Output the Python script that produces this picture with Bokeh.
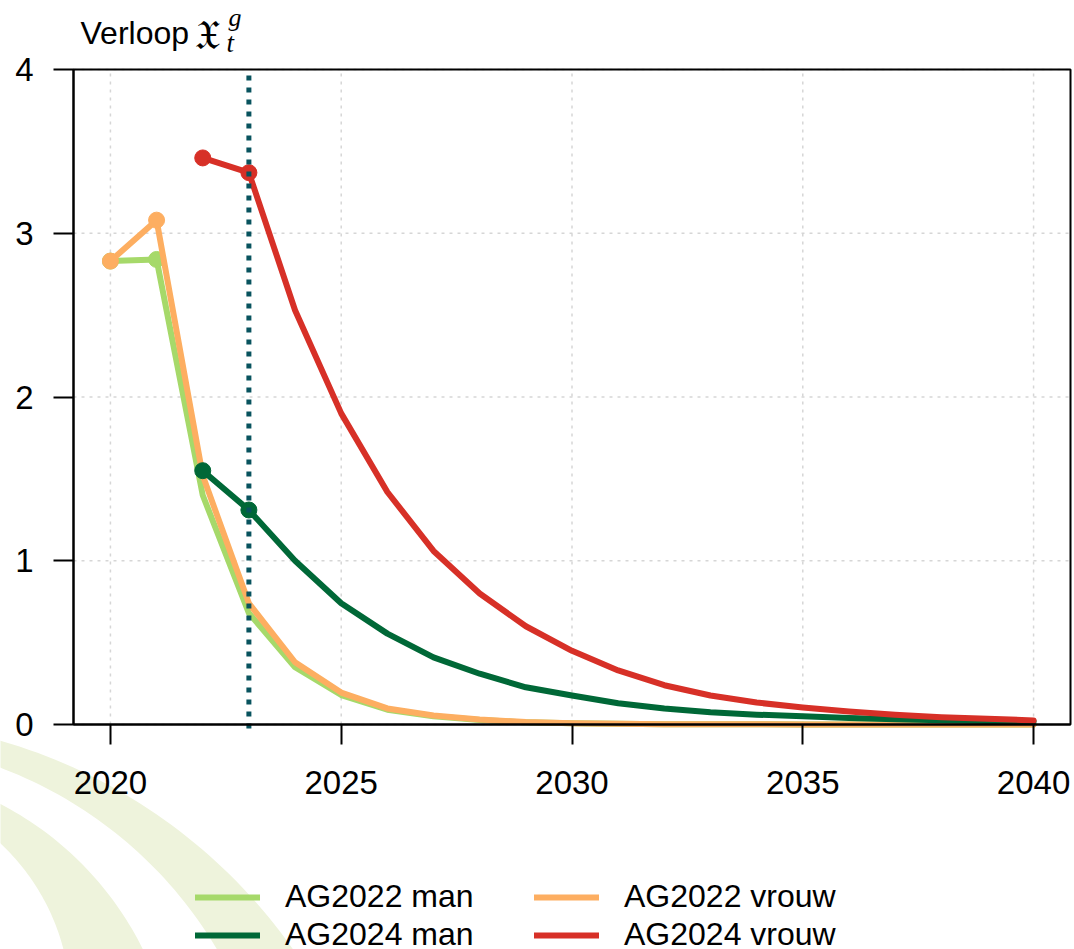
import numpy as np
from bokeh.plotting import figure
from bokeh.models import (Legend, LegendItem, Range1d, FixedTicker, Label,
                          PolyAnnotation, BoxAnnotation)
from bokeh.embed import file_html
from bokeh.resources import INLINE

# ---------------- data ----------------
years_2022 = list(range(2020, 2041))
years_2024 = list(range(2022, 2041))

ag2022_man = [2.83, 2.84, 1.40, 0.68, 0.35, 0.18, 0.09, 0.05, 0.027, 0.013,
              0.007, 0.004, 0.002, 0.001, 0.001, 0.0005, 0.0003, 0.0002,
              0.0001, 0.0001, 0.0]
ag2022_vrouw = [2.83, 3.08, 1.52, 0.74, 0.38, 0.195, 0.098, 0.055, 0.03, 0.015,
                0.008, 0.004, 0.002, 0.001, 0.001, 0.0005, 0.0003, 0.0002,
                0.0001, 0.0001, 0.0]
ag2024_man = [1.55, 1.31, 1.00, 0.74, 0.555, 0.41, 0.31, 0.227, 0.177, 0.13,
              0.098, 0.075, 0.06, 0.05, 0.04, 0.032, 0.026, 0.022, 0.018]
ag2024_vrouw = [3.46, 3.37, 2.53, 1.90, 1.42, 1.06, 0.80, 0.60, 0.45, 0.33,
                0.24, 0.177, 0.134, 0.104, 0.08, 0.06, 0.045, 0.035, 0.025]

series_labels = ["AG2022 man", "AG2022 vrouw", "AG2024 man", "AG2024 vrouw"]
series_colors = ["#a6d96a", "#fdae61", "#006837", "#d73027"]

x_ticks = [2020, 2025, 2030, 2035, 2040]
y_ticks = [0, 1, 2, 3, 4]
vline_year = 2023

# ---------------- layout geometry (pixels) ----------------
W, H = 1074, 949
FL, FR, FT, FB = 73.0, 1070.0, 69.0, 724.0     # plot box on the canvas
XA, XB = 2019.2, 2040.8                          # x extent of the plot box
YA, YB = 0.0, 4.0                                # y extent of the plot box
kx = (FR - FL) / (XB - XA)
ky = (FB - FT) / (YB - YA)
x_range = Range1d(XA - FL / kx, XB + (W - FR) / kx)
y_range = Range1d(YA - (H - FB) / ky, YB + FT / ky)

p = figure(width=W, height=H, output_backend="svg", toolbar_location=None,
           x_range=x_range, y_range=y_range,
           min_border_left=0, min_border_right=0, min_border_top=0,
           min_border_bottom=0)
p.title.visible = False
p.outline_line_color = None
p.background_fill_color = "white"
p.border_fill_color = "white"
p.grid.visible = False

# watermark arcs (screen pixels; each edge its own circle: centre y, radius)
theta = np.linspace(0, np.pi / 2, 90)
wm_cx = -150.0
for (cy_o, r_o), (cy_i, r_i) in [((1260, 541), (1166, 426)),
                                 ((1093, 326), (1004, 220))]:
    sxs = np.concatenate([wm_cx + r_o * np.cos(theta),
                          wm_cx + r_i * np.cos(theta[::-1])])
    sys = np.concatenate([cy_o - r_o * np.sin(theta),
                          cy_i - r_i * np.sin(theta[::-1])])
    p.add_layout(PolyAnnotation(xs=list(sxs), ys=list(H - sys), xs_units="screen",
                                ys_units="screen", fill_color="#eef3dc",
                                fill_alpha=1.0, line_color=None, level="underlay"))

# grid (dotted) limited to the plot box
p.segment(x0=x_ticks, x1=x_ticks, y0=[YA] * len(x_ticks), y1=[YB] * len(x_ticks),
          line_color="#d6d6d6", line_width=1.5, line_dash="3 5")
p.segment(x0=[XA] * len(y_ticks), x1=[XB] * len(y_ticks), y0=y_ticks, y1=y_ticks,
          line_color="#d6d6d6", line_width=1.5, line_dash="3 5")

# axes placed on the plot box
p.xaxis.fixed_location = YA
p.xaxis.bounds = (XA, XB)
p.yaxis.fixed_location = XA
p.yaxis.bounds = (YA, YB)
for ax in (p.xaxis[0], p.yaxis[0]):
    ax.axis_line_width = 2
    ax.axis_line_color = "black"
    ax.major_tick_line_width = 2
    ax.major_tick_line_color = "black"
    ax.major_tick_out = 20
    ax.major_tick_in = 0
    ax.minor_tick_line_color = None
    ax.major_label_text_font = "Liberation Sans"
    ax.major_label_text_font_size = "33px"
    ax.major_label_text_color = "black"
p.xaxis.ticker = FixedTicker(ticks=x_ticks)
p.yaxis.ticker = FixedTicker(ticks=y_ticks)
p.xaxis.major_label_standoff = 26
p.yaxis.major_label_standoff = 20

# series
xs_all = [years_2022, years_2022, years_2024, years_2024]
ys_all = [ag2022_man, ag2022_vrouw, ag2024_man, ag2024_vrouw]
renderers = []
for xs, ys, col in zip(xs_all, ys_all, series_colors):
    r = p.line(xs, ys, line_width=6, line_color=col, line_cap="round",
               line_join="round")
    p.scatter(xs[:2], ys[:2], size=16, marker="circle", fill_color=col,
              line_color=col)
    renderers.append(r)

# vertical dotted line
p.segment(x0=[vline_year], x1=[vline_year], y0=[YA - 0.025], y1=[YB],
          line_color="#08535e", line_width=5, line_dash="5 7")

# box around plot region (on top of the grid)
p.add_layout(BoxAnnotation(left=XA, right=XB, bottom=YA, top=YB, fill_alpha=0,
                           line_color="black", line_alpha=1.0, line_width=2))

# title: Verloop X_t^g
p.add_layout(Label(x=80, y=H - 32, x_units="screen", y_units="screen", text="Verloop",
                   text_font="Liberation Sans", text_font_size="32px",
                   text_baseline="alphabetic", text_color="black"))
p.add_layout(Label(x=194, y=H - 34, x_units="screen", y_units="screen",
                   text="\U0001D51B", text_font="DejaVu Serif", text_font_size="41px",
                   text_baseline="alphabetic", text_color="black"))
p.add_layout(Label(x=226, y=H - 42, x_units="screen", y_units="screen", text="t",
                   text_font="Liberation Serif", text_font_style="italic",
                   text_font_size="27px", text_baseline="alphabetic",
                   text_color="black"))
p.add_layout(Label(x=228, y=H - 17, x_units="screen", y_units="screen", text="g",
                   text_font="Liberation Serif", text_font_style="italic",
                   text_font_size="26px", text_baseline="alphabetic",
                   text_color="black"))

# legend (column-major: col1 = man, col2 = vrouw)
order = [0, 2, 1, 3]
items = [LegendItem(label=series_labels[i], renderers=[renderers[i]]) for i in order]
legend = Legend(items=items, location=(195, -4), orientation="vertical", ncols=2,
                glyph_width=65, glyph_height=36, label_standoff=25, label_width=248,
                spacing=1, padding=0, margin=0, border_line_color=None,
                background_fill_alpha=0, label_text_font="Liberation Sans",
                label_text_font_size="32px", label_text_color="black")
p.add_layout(legend, "center")

open("out.html", "w").write(file_html(p, INLINE))
